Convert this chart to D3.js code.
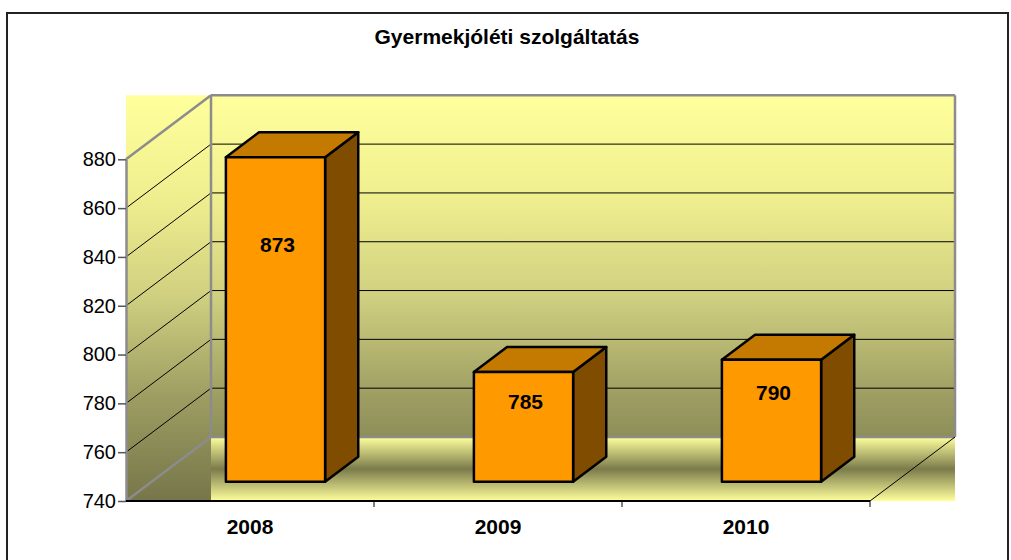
<!DOCTYPE html>
<html>
<head>
  <meta charset="utf-8">
  <title>Gyermekjóléti szolgáltatás</title>
  <script src="https://d3js.org/d3.v7.min.js"></script>
  <style>
    body { margin: 0; background: #fff; }
    svg { display: block; font-family: "Liberation Sans", Arial, sans-serif; }
  </style>
</head>
<body>
  <div id="chart"></div>

  <script>
    // chart data
    const chartTitle = 'Gyermekjóléti szolgáltatás';
    const years = ['2008', '2009', '2010'];
    const values = [873, 785, 790];
    const yTicks = [740, 760, 780, 800, 820, 840, 860, 880];

    const width = 1011, height = 560;

    // 3d layout: front plane of the plot, and the depth offset to the back wall
    const front = { left: 126, right: 870, bottom: 501, top: 159.3 };
    const depth = { dx: 85, dy: -64 };
    const barFront = 0.30, barBack = 0.69;   // bar position inside the depth

    const svg = d3.select('#chart')
      .append('svg')
      .attr('width', width)
      .attr('height', height);

    // scales
    const yScale = d3.scaleLinear()
      .domain([d3.min(yTicks), d3.max(yTicks)])
      .range([front.bottom, front.top]);

    const xScale = d3.scaleBand()
      .domain(years)
      .range([front.left, front.right])
      .paddingInner(0.6)
      .paddingOuter(0.3);

    const xTickScale = d3.scaleBand()
      .domain(years)
      .range([front.left, front.right]);

    const backTop = yScale(d3.max(yTicks)) + depth.dy;
    const backBottom = yScale(d3.min(yTicks)) + depth.dy;
    const backLeft = front.left + depth.dx;
    const backRight = front.right + depth.dx;

    // gradients
    const defs = svg.append('defs');
    const wallGrad = defs.append('linearGradient')
      .attr('id', 'wall-grad')
      .attr('x1', 0).attr('y1', 0).attr('x2', 0).attr('y2', 1);
    [[0, '#ffff9c'], [0.25, '#f0ef8f'], [0.5, '#cfcf80'], [0.75, '#9c9c62'], [1, '#76764a']]
      .forEach(([o, c]) => wallGrad.append('stop').attr('offset', o).attr('stop-color', c));

    const floorGrad = defs.append('linearGradient')
      .attr('id', 'floor-grad')
      .attr('x1', 0).attr('y1', 0).attr('x2', 0).attr('y2', 1);
    [[0, '#ffff9c'], [0.5, '#7b7b4c'], [1, '#ffff9c']]
      .forEach(([o, c]) => floorGrad.append('stop').attr('offset', o).attr('stop-color', c));

    // outer chart border
    svg.append('rect')
      .attr('x', 7).attr('y', 13)
      .attr('width', 1001).attr('height', 600)
      .attr('fill', 'none')
      .attr('stroke', '#222')
      .attr('stroke-width', 2);

    // title
    svg.append('text')
      .attr('x', 507).attr('y', 43.5)
      .attr('text-anchor', 'middle')
      .style('font-size', '21px')
      .style('font-weight', 'bold')
      .text(chartTitle);

    // plot background (walls) and floor band
    svg.append('rect')
      .attr('x', front.left).attr('y', backTop)
      .attr('width', backRight - front.left)
      .attr('height', front.bottom - backTop)
      .attr('fill', 'url(#wall-grad)');

    svg.append('rect')
      .attr('x', backLeft).attr('y', backBottom)
      .attr('width', backRight - backLeft)
      .attr('height', front.bottom - backBottom)
      .attr('fill', 'url(#floor-grad)');

    // gridlines on side wall and back wall
    const grid = svg.append('g');
    yTicks.forEach(v => {
      const edge = v === d3.min(yTicks) || v === d3.max(yTicks);
      const stroke = edge ? '#8c8c8c' : '#000';
      const sw = edge ? 2.5 : 1;
      grid.append('line')
        .attr('x1', front.left).attr('y1', yScale(v))
        .attr('x2', backLeft).attr('y2', yScale(v) + depth.dy)
        .attr('stroke', stroke).attr('stroke-width', sw);
      grid.append('line')
        .attr('x1', backLeft).attr('y1', yScale(v) + depth.dy)
        .attr('x2', backRight).attr('y2', yScale(v) + depth.dy)
        .attr('stroke', stroke).attr('stroke-width', sw);
    });

    // wall vertical edges
    [backLeft, backRight].forEach(x => {
      grid.append('line')
        .attr('x1', x).attr('y1', backTop)
        .attr('x2', x).attr('y2', backBottom)
        .attr('stroke', '#8c8c8c').attr('stroke-width', 2.5);
    });

    // floor right edge
    grid.append('line')
      .attr('x1', front.right).attr('y1', front.bottom)
      .attr('x2', backRight).attr('y2', backBottom)
      .attr('stroke', '#000').attr('stroke-width', 1);

    // bars
    const bars = years.map((year, i) => {
      const fx = xScale(year) + barFront * depth.dx;
      const top = yScale(values[i]) + barFront * depth.dy;
      const bottom = yScale(d3.min(yTicks)) + barFront * depth.dy;
      const bdx = (barBack - barFront) * depth.dx;
      const bdy = (barBack - barFront) * depth.dy;
      return { year, value: values[i], fx, top, bottom, w: xScale.bandwidth(), bdx, bdy };
    });

    const barG = svg.append('g')
      .selectAll('g')
      .data(bars)
      .join('g')
      .attr('stroke', '#000')
      .attr('stroke-width', 2.5)
      .attr('stroke-linejoin', 'round');

    barG.append('polygon')
      .attr('fill', '#7f4c00')
      .attr('points', d => [
        [d.fx + d.w, d.top], [d.fx + d.w + d.bdx, d.top + d.bdy],
        [d.fx + d.w + d.bdx, d.bottom + d.bdy], [d.fx + d.w, d.bottom]
      ].join(' '));

    barG.append('polygon')
      .attr('fill', '#c47a00')
      .attr('points', d => [
        [d.fx, d.top], [d.fx + d.bdx, d.top + d.bdy],
        [d.fx + d.w + d.bdx, d.top + d.bdy], [d.fx + d.w, d.top]
      ].join(' '));

    barG.append('rect')
      .attr('fill', '#ff9900')
      .attr('x', d => d.fx)
      .attr('y', d => d.top)
      .attr('width', d => d.w)
      .attr('height', d => d.bottom - d.top);

    // value labels
    svg.append('g')
      .selectAll('text')
      .data(bars)
      .join('text')
      .attr('x', d => d.fx + d.w / 2 + 2)
      .attr('y', d => d.top + (d.bottom - d.top) * 0.27)
      .attr('dy', '0.35em')
      .attr('text-anchor', 'middle')
      .style('font-size', '21px')
      .style('font-weight', 'bold')
      .text(d => d.value);

    // y axis
    const yAxis = svg.append('g')
      .attr('transform', `translate(${front.left}, 0)`)
      .call(d3.axisLeft(yScale).tickValues(yTicks).tickSize(8).tickPadding(2).tickSizeOuter(0));
    yAxis.select('.domain').attr('stroke', '#8c8c8c').attr('stroke-width', 2.5);
    yAxis.selectAll('.tick line').attr('stroke', '#555').attr('stroke-width', 1.5);
    yAxis.selectAll('.tick text')
      .style('font-size', '20px')
      .style('font-family', '"Liberation Sans", Arial, sans-serif')
      .attr('fill', '#000');

    // category axis
    const xAxis = svg.append('g');
    xAxis.append('line')
      .attr('x1', front.left).attr('y1', front.bottom)
      .attr('x2', front.right).attr('y2', front.bottom)
      .attr('stroke', '#000').attr('stroke-width', 2);
    years.forEach(year => {
      xAxis.append('line')
        .attr('x1', xTickScale(year) + xTickScale.step()).attr('y1', front.bottom)
        .attr('x2', xTickScale(year) + xTickScale.step()).attr('y2', front.bottom + 6)
        .attr('stroke', '#000').attr('stroke-width', 1);
      xAxis.append('text')
        .attr('x', xTickScale(year) + xTickScale.bandwidth() / 2)
        .attr('y', 534)
        .attr('text-anchor', 'middle')
        .style('font-size', '21px')
        .style('font-weight', 'bold')
        .text(year);
    });
  </script>
</body>
</html>
